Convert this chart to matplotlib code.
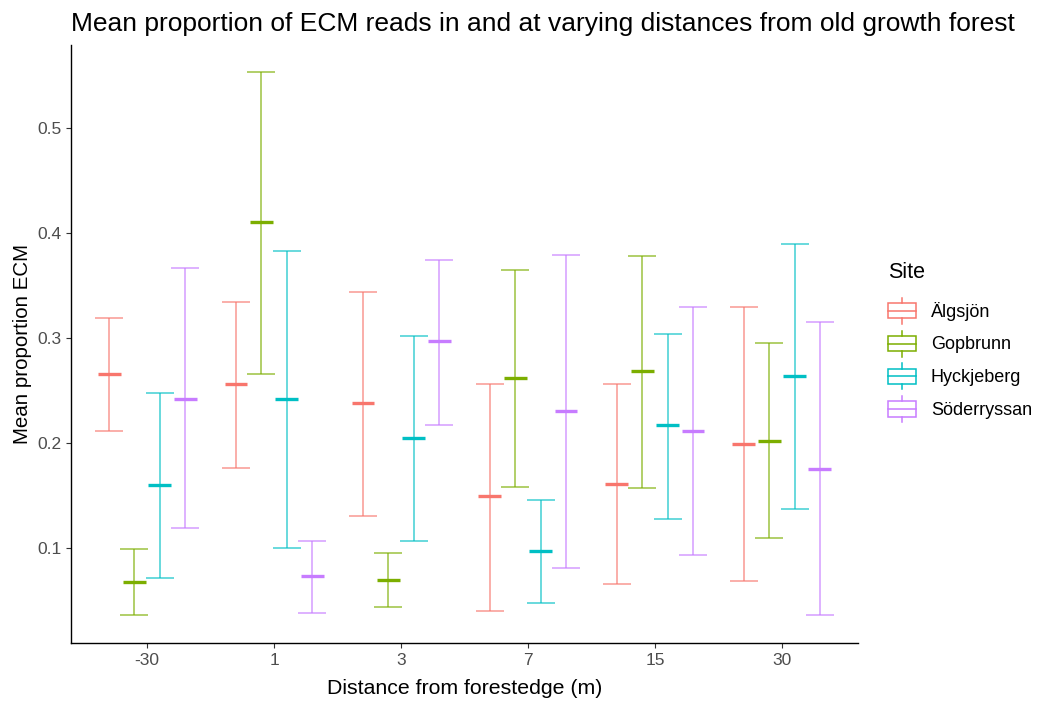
import numpy as np
import matplotlib
matplotlib.use("Agg")
import matplotlib.pyplot as plt
from matplotlib.legend_handler import HandlerBase
from matplotlib.patches import Rectangle
from matplotlib.lines import Line2D

plt.rcParams['font.family'] = ['Liberation Sans', 'DejaVu Sans']

# data
distances = ["-30", "1", "3", "7", "15", "30"]
sites = ["Älgsjön", "Gopbrunn", "Hyckjeberg", "Söderryssan"]
colors = ["#F8766D", "#7CAE00", "#00BFC4", "#C77CFF"]

algsjon_mean = [0.265, 0.256, 0.238, 0.149, 0.161, 0.199]
algsjon_low = [0.211, 0.176, 0.130, 0.040, 0.065, 0.068]
algsjon_high = [0.319, 0.334, 0.344, 0.256, 0.256, 0.329]

gopbrunn_mean = [0.067, 0.410, 0.069, 0.262, 0.268, 0.202]
gopbrunn_low = [0.036, 0.265, 0.043, 0.158, 0.157, 0.109]
gopbrunn_high = [0.099, 0.553, 0.095, 0.365, 0.378, 0.295]

hyckjeberg_mean = [0.160, 0.242, 0.204, 0.097, 0.217, 0.264]
hyckjeberg_low = [0.071, 0.100, 0.106, 0.047, 0.127, 0.137]
hyckjeberg_high = [0.247, 0.383, 0.302, 0.145, 0.304, 0.389]

soderryssan_mean = [0.242, 0.073, 0.297, 0.230, 0.211, 0.175]
soderryssan_low = [0.119, 0.038, 0.217, 0.081, 0.093, 0.036]
soderryssan_high = [0.366, 0.106, 0.374, 0.379, 0.329, 0.315]

means = [algsjon_mean, gopbrunn_mean, hyckjeberg_mean, soderryssan_mean]
lows = [algsjon_low, gopbrunn_low, hyckjeberg_low, soderryssan_low]
highs = [algsjon_high, gopbrunn_high, hyckjeberg_high, soderryssan_high]


class BoxKey(HandlerBase):
    # boxplot style key like ggplot
    def create_artists(self, legend, orig_handle, xdescent, ydescent,
                       width, height, fontsize, trans):
        c = orig_handle.get_color()
        x0, y0 = -xdescent, -ydescent
        cx = x0 + width / 2
        b0, b1 = y0 + height * 0.17, y0 + height * 0.83
        box = Rectangle((x0, b0), width, b1 - b0,
                        facecolor="white", edgecolor=c, lw=1.1, transform=trans)
        med = Line2D([x0, x0 + width], [y0 + height / 2] * 2, color=c, lw=1.1, transform=trans)
        w1 = Line2D([cx, cx], [y0 - 1, b0], color=c, lw=1.1, transform=trans)
        w2 = Line2D([cx, cx], [b1, y0 + height + 1], color=c, lw=1.1, transform=trans)
        return [box, med, w1, w2]


fig = plt.figure(figsize=(10.4, 7.02), dpi=100)
ax = fig.add_axes([0.0683, 0.084, 0.7567, 0.852])

x = np.arange(1, len(distances) + 1)
offsets = [-0.3, -0.1, 0.1, 0.3]
handles = []
for i in range(len(sites)):
    m = np.array(means[i])
    lo = np.array(lows[i])
    hi = np.array(highs[i])
    xs = x + offsets[i]
    ax.errorbar(xs, (lo + hi) / 2, yerr=(hi - lo) / 2, fmt='none', ecolor=colors[i],
                elinewidth=1.1, capsize=10.4, capthick=1.1, alpha=0.75)
    ax.hlines(m, xs - 0.09, xs + 0.09, colors=colors[i], lw=2.4)
    handles.append(Line2D([], [], color=colors[i]))

ax.set_xlim(0.4, 6.6)
ax.set_ylim(0.0091, 0.579)
ax.set_xticks(x)
ax.set_xticklabels(distances)
ax.set_yticks([0.1, 0.2, 0.3, 0.4, 0.5])
ax.tick_params(colors="#333333", labelcolor="#4D4D4D", labelsize=12.5, length=3.5, width=0.8)
for s in ["top", "right"]:
    ax.spines[s].set_visible(False)
for s in ["left", "bottom"]:
    ax.spines[s].set_linewidth(1.0)

ax.set_xlabel("Distance from forestedge (m)", fontsize=15.3, labelpad=8)
ax.set_ylabel("Mean proportion ECM", fontsize=14.8, labelpad=4)
ax.set_title("Mean proportion of ECM reads in and at varying distances from old growth forest",
             fontsize=19, loc="left", x=0.0, pad=10)

# legend title drawn on its own so the gap to the keys can be set
fig.text(888 / 1040, 1 - 272 / 702, "Site", fontsize=15.5, va="center", ha="left")
leg = fig.legend(handles, sites, handler_map={Line2D: BoxKey()},
                 loc="upper left", bbox_to_anchor=(0.838, 0.597), frameon=False,
                 fontsize=13, handlelength=1.55, handleheight=1.6,
                 labelspacing=0.53, handletextpad=0.83)

plt.savefig("out.png", dpi=100)
